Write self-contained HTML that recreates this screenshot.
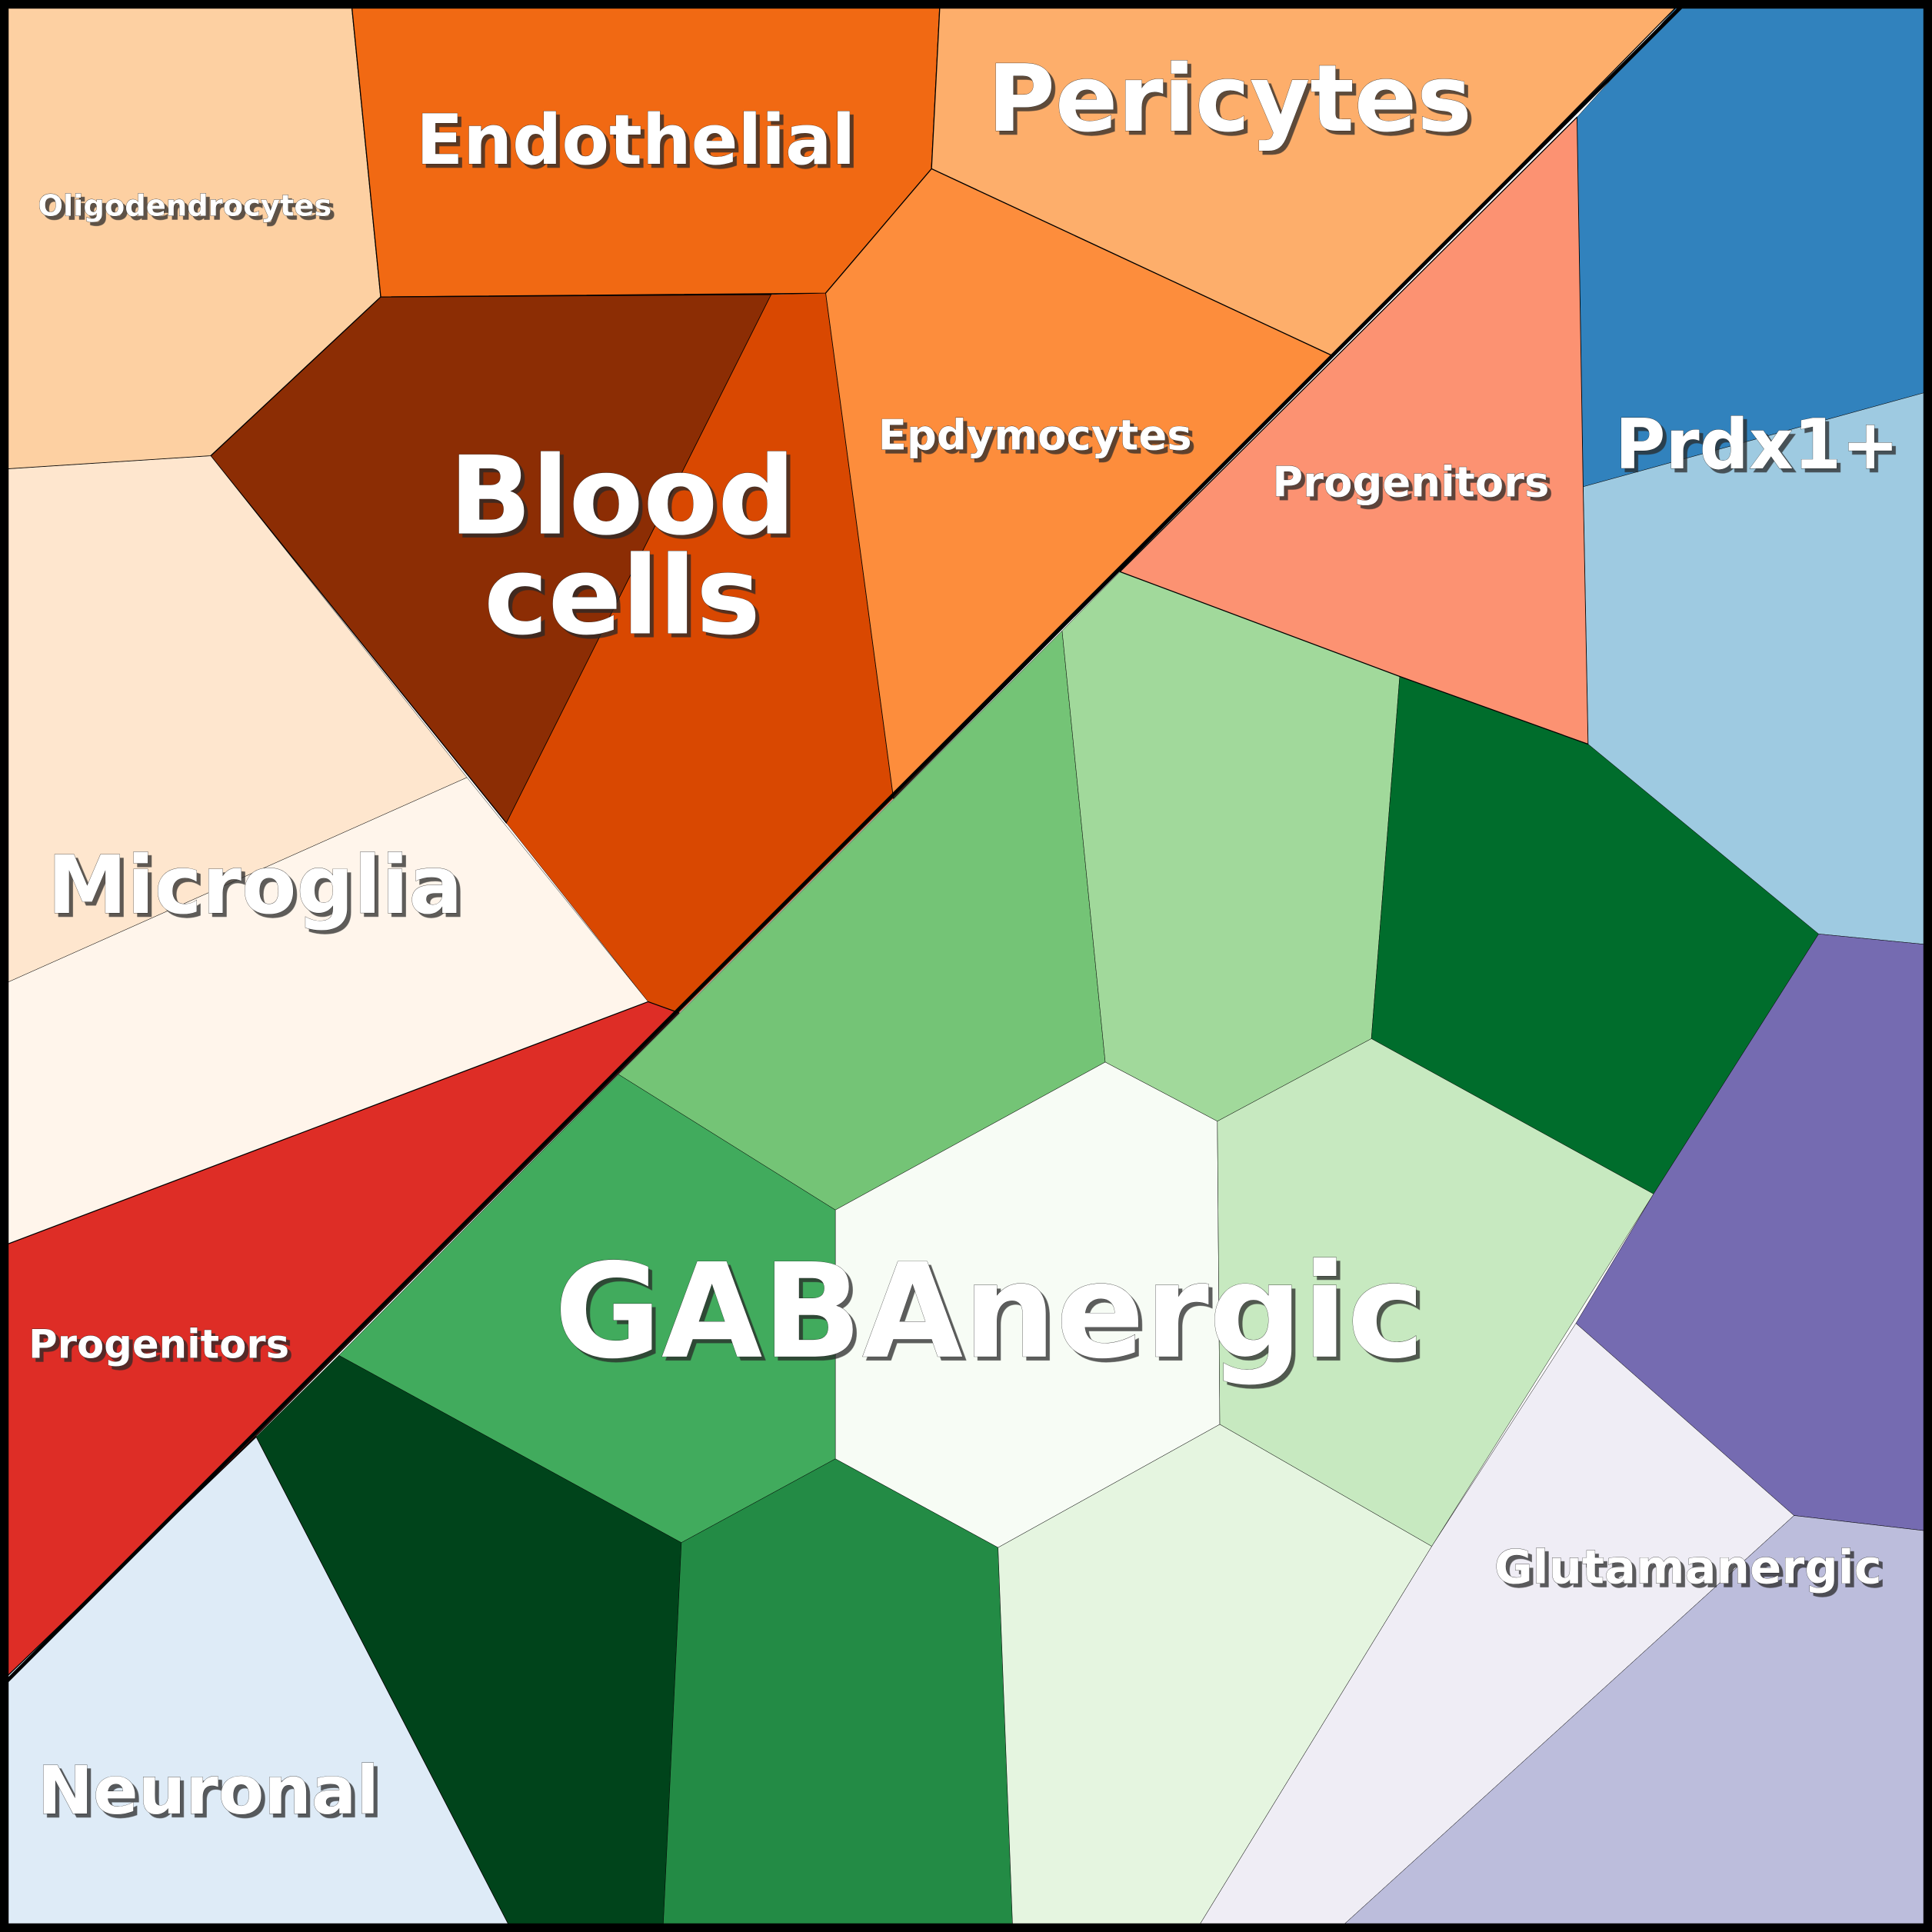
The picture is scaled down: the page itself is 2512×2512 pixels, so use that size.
<!DOCTYPE html>
<html><head><meta charset="utf-8"><style>
html,body{margin:0;padding:0;background:#fff}
svg{display:block}
text{font-family:"DejaVu Sans","Liberation Sans",sans-serif;font-weight:bold;fill:#fff;stroke:#222;stroke-width:0.4;paint-order:stroke}
.labels{filter:drop-shadow(3px 3px 0 rgba(40,40,40,0.75))}
</style></head><body>
<svg width="2512" height="2512" viewBox="0 0 1568 1568" xmlns="http://www.w3.org/2000/svg">
<g stroke="#000" stroke-width="0.8" stroke-linejoin="round">
<polygon fill="#fdd0a2" points="0,0 285,0 309,241 171,370 0,381"/>
<polygon fill="#f16913" points="285,0 763,0 756,137 670,238 309,241"/>
<polygon fill="#fdae6b" points="763,0 1366,0 1082,289 756,137"/>
<polygon fill="#fd8d3c" points="756,137 1082,289 725,648 670,238"/>
<polygon fill="#8c2d04" points="309,241 626,239 411,668 171,370"/>
<polygon fill="#d94801" points="626,239 670,238 725,648 551,822 526,813 411,668" stroke-width="0.3"/>
<polygon fill="#fee6ce" points="0,381 171,370 379,631 0,800" stroke-width="0.3"/>
<polygon fill="#fff5eb" points="0,800 379,631 526,813 0,1012" stroke-width="0.3"/>
<polygon fill="#de2d26" points="0,1012 526,813 551,822 0,1373"/>
<polygon fill="#deebf7" points="0,1366 208,1166 416,1568 0,1568"/>
<polygon fill="#74c476" points="862,512 897,862 678,982 502,872" stroke-width="0.3"/>
<polygon fill="#a1d99b" points="862,512 909,464 1136,549 1113,843 988,910 897,862" stroke-width="0.3"/>
<polygon fill="#006d2c" points="1136,549 1289,604 1476,758 1342,969 1113,843" stroke-width="0.3"/>
<polygon fill="#41ab5d" points="502,872 678,982 678,1184 553,1252 275,1100" stroke-width="0.3"/>
<polygon fill="#f7fcf5" points="678,982 897,862 988,910 990,1156 810,1256 678,1184" stroke-width="0.3"/>
<polygon fill="#c7e9c0" points="988,910 1113,843 1342,969 1162,1255 990,1156" stroke-width="0.3"/>
<polygon fill="#00441b" points="275,1100 553,1252 538,1568 416,1568 208,1166" stroke-width="0.3"/>
<polygon fill="#238b45" points="553,1252 678,1184 810,1256 822,1568 538,1568" stroke-width="0.3"/>
<polygon fill="#e5f5e0" points="810,1256 990,1156 1162,1255 970,1568 822,1568" stroke-width="0.3"/>
<polygon fill="#fc9272" points="909,464 1280,95 1285,395 1289,604 1136,549"/>
<polygon fill="#3182bd" points="1280,95 1366,0 1568,0 1568,317 1285,395" stroke-width="0.3"/>
<polygon fill="#9ecae1" points="1285,395 1568,317 1568,767 1476,758 1289,604" stroke-width="0.3"/>
<polygon fill="#756bb1" points="1476,758 1568,767 1568,1243 1456,1230 1279,1074 1342,969" stroke-width="0.3"/>
<polygon fill="#efedf5" points="1279,1074 1456,1230 1084,1568 970,1568 1162,1255" stroke-width="0.3"/>
<polygon fill="#bcbddc" points="1456,1230 1568,1243 1568,1568 1084,1568" stroke-width="0.3"/>
</g>
<line x1="1370" y1="0" x2="0" y2="1370" stroke="#000" stroke-width="3"/>
<rect x="3.5" y="3.5" width="1561" height="1561" fill="none" stroke="#000" stroke-width="7"/>
<g class="labels">
<text x="150" y="175" font-size="24" text-anchor="middle">Oligodendrocytes</text>
<text x="516" y="133" font-size="56" text-anchor="middle">Endothelial</text>
<text x="998" y="106" font-size="75" text-anchor="middle">Pericytes</text>
<text x="840" y="365" font-size="34" text-anchor="middle">Epdymocytes</text>
<text x="505" y="433" font-size="88" text-anchor="middle">Blood</text>
<text x="505" y="514" font-size="88" text-anchor="middle">cells</text>
<text x="207" y="741" font-size="65" text-anchor="middle">Microglia</text>
<text x="1145" y="403" font-size="34" text-anchor="middle">Progenitors</text>
<text x="1426" y="380" font-size="56" text-anchor="middle">Prdx1+</text>
<text x="129" y="1102" font-size="32" text-anchor="middle">Progenitors</text>
<text x="803" y="1101" font-size="106" text-anchor="middle">GABAnergic</text>
<text x="1370" y="1285" font-size="38" text-anchor="middle">Glutamanergic</text>
<text x="169" y="1472" font-size="54" text-anchor="middle">Neuronal</text>
</g>
</svg>
</body></html>
